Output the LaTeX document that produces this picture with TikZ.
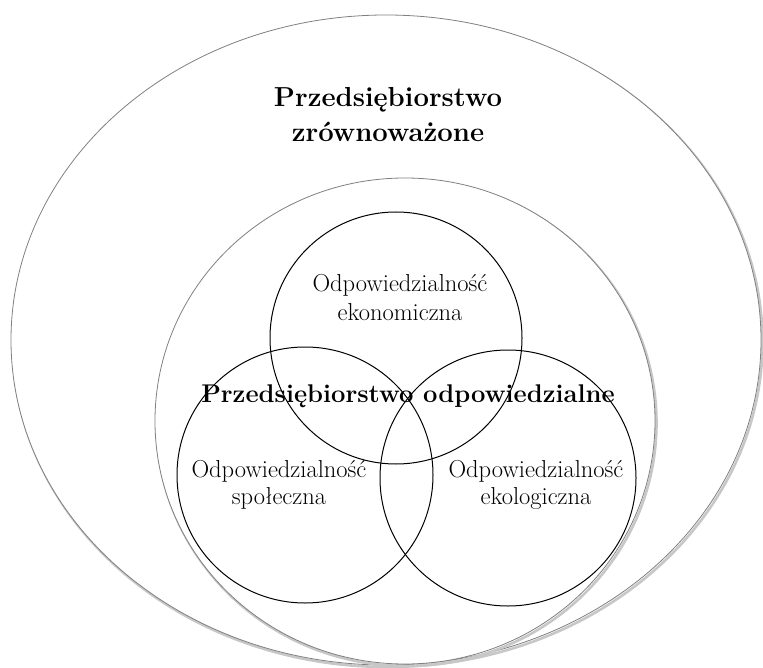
\documentclass[tikz,border=0pt]{standalone}
\usepackage{fontspec}
\usetikzlibrary{shapes.geometric}
\begin{document}
\begin{tikzpicture}[x=1pt,y=-1pt,
  ell/.style={ellipse, draw=black!50, line width=0.8pt, inner sep=0pt},
  shad/.style={ellipse, draw=black!22, line width=2.6pt, inner sep=0pt},
  ring/.style={circle, draw=black, line width=1pt, inner sep=0pt},
  lab/.style={anchor=base, inner sep=0pt, font=\fontsize{24.5}{28}\selectfont},
  title/.style={anchor=base, inner sep=0pt, font=\fontsize{27.5}{35}\selectfont\bfseries},
  mid/.style={anchor=base, inner sep=0pt, font=\fontsize{25.6}{30}\selectfont\bfseries},
]
\useasboundingbox (0,0) rectangle (763,668);
% outer ellipse with shadow
\node[shad, minimum width=750pt, minimum height=650pt] (outerS) at (387.5,342) {};
\node[ell, fill=white, minimum width=750pt, minimum height=650pt] (outer) at (386,340) {};
% inner ellipse with shadow
\node[shad, minimum width=500pt, minimum height=486pt] (innerS) at (406.5,423) {};
\node[ell, fill=white, minimum width=500pt, minimum height=486pt] (inner) at (405,421) {};
% circles
\node[ring, minimum size=252pt] (econ) at (396,338) {};
\node[ring, minimum size=256pt] (soc) at (305,475) {};
\node[ring, minimum size=256pt] (eco) at (508,478) {};
% texts
\node[title] (t1) at (388,107) {Przedsiębiorstwo};
\node[title] (t2) at (388,142) {zrównoważone};
\node[mid] (m) at (408,402) {Przedsiębiorstwo odpowiedzialne};
\node[lab] (e1) at (400,292) {Odpowiedzialność};
\node[lab] (e2) at (400,320) {ekonomiczna};
\node[lab] (s1) at (279,477) {Odpowiedzialność};
\node[lab] (s2) at (279,504) {społeczna};
\node[lab] (k1) at (536,477) {Odpowiedzialność};
\node[lab] (k2) at (536,504) {ekologiczna};
\end{tikzpicture}
\end{document}
